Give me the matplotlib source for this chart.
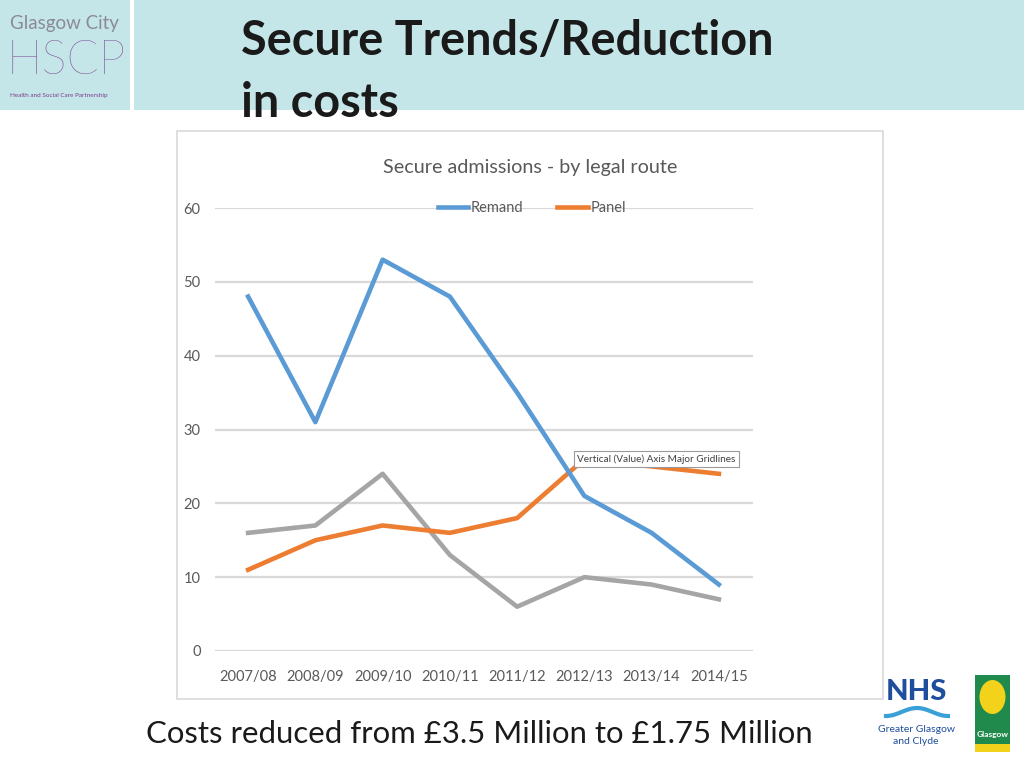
import matplotlib
matplotlib.use("Agg")
import matplotlib.pyplot as plt
from matplotlib.patches import Rectangle, Ellipse
import numpy as np

# data
years = ["2007/08", "2008/09", "2009/10", "2010/11", "2011/12", "2012/13", "2013/14", "2014/15"]
remand = [48, 31, 53, 48, 35, 21, 16, 9]
panel = [11, 15, 17, 16, 18, 26, 25, 24]
other = [16, 17, 24, 13, 6, 10, 9, 7]
yticks = [0, 10, 20, 30, 40, 50, 60]

plt.rcParams['font.family'] = ['Lato', 'DejaVu Sans']

W, H = 1024, 768
fig = plt.figure(figsize=(W / 100, H / 100), dpi=100)
fig.patch.set_facecolor("white")

def px(x, y):
    # pixel (from top-left) -> figure fraction
    return x / W, 1 - y / H

def box(x0, y0, x1, y1, **kw):
    fig.patches.append(Rectangle((x0 / W, 1 - y1 / H), (x1 - x0) / W, (y1 - y0) / H,
                                 transform=fig.transFigure, zorder=-1, **kw))

# header band and logo panel
band = "#c4e6e8"
box(0, 0, 130, 110, facecolor=band, edgecolor="none")
box(134, 0, 1024, 110, facecolor=band, edgecolor="none")

fig.text(*px(10, 23), "Glasgow City", fontsize=13.5, color="#8a8a9a", va="center", ha="left")
fig.text(*px(7, 62), "HSCP", fontsize=34, color="#7b3c8f", va="center", ha="left",
         fontweight="light")
fig.text(*px(10, 96), "Health and Social Care Partnership", fontsize=4.6, color="#7b3c8f",
         va="center", ha="left")

# slide title
fig.text(*px(241, 41), "Secure Trends/Reduction", fontsize=33.7, fontweight="bold",
         color="#1a1a1a", va="center", ha="left")
fig.text(*px(241, 103), "in costs", fontsize=33.7, fontweight="bold",
         color="#1a1a1a", va="center", ha="left")

# chart frame
box(177, 131, 883, 699, facecolor="white", edgecolor="#d9d9d9", linewidth=1.2)

fig.text(*px(530, 167), "Secure admissions - by legal route", fontsize=14.2,
         color="#595959", va="center", ha="center")

# plot area
l, t, r, b = 214.5, 208, 752.5, 651
ax = fig.add_axes([l / W, 1 - b / H, (r - l) / W, (b - t) / H])
ax.set_zorder(2)
ax.set_facecolor("none")
x = np.arange(len(years))
ax.set_xlim(-0.5, len(years) - 0.5)
ax.set_ylim(0, 60)
for v in yticks:
    ax.axhline(v, color="#d9d9d9", linewidth=1.6, zorder=0)
l_other, = ax.plot(x, other, color="#a5a5a5", linewidth=3.3, clip_on=False)
l_panel, = ax.plot(x, panel, color="#ed7d31", linewidth=3.3, clip_on=False)
l_remand, = ax.plot(x, remand, color="#5b9bd5", linewidth=3.3, clip_on=False)
for s in ax.spines.values():
    s.set_visible(False)
ax.set_xticks(x)
ax.set_xticklabels(years)
ax.set_yticks(yticks)
ax.tick_params(length=0, labelsize=10.5, labelcolor="#595959")
ax.tick_params(axis="x", pad=14)
ax.tick_params(axis="y", pad=10)

# legend drawn over the 60 gridline
lg = ax.legend([l_remand, l_panel], ["Remand", "Panel"], loc="center",
               bbox_to_anchor=(0.59, 1.0), ncol=2, frameon=False, fontsize=10.5,
               handlelength=2.1, columnspacing=2.3, handletextpad=0.2)
for txt in lg.get_texts():
    txt.set_color("#595959")

# tooltip from the screenshot
fig.text(*px(577, 459), "Vertical (Value) Axis Major Gridlines", fontsize=7.2,
         color="#404040", va="center", ha="left", zorder=5,
         bbox=dict(boxstyle="square,pad=0.35", facecolor="white", edgecolor="#9a9a9a",
                   linewidth=0.8))

# caption
fig.text(*px(146, 734), "Costs reduced from \u00a33.5 Million to \u00a31.75 Million",
         fontsize=22.4, color="#1a1a1a", va="center", ha="left")

# NHS logo
fig.text(*px(916, 692), "NHS", fontsize=21, fontweight="black", color="#1f4e9c",
         va="center", ha="center")
wx = np.linspace(886, 948, 60)
wy = 712 + 4 * np.cos((wx - 886) / 62 * 2 * np.pi)
fig.lines.append(plt.Line2D(wx / W, 1 - wy / H, transform=fig.transFigure,
                            color="#3aa0d8", linewidth=3))
fig.text(*px(916, 729), "Greater Glasgow", fontsize=7.5, color="#1f4e9c",
         va="center", ha="center")
fig.text(*px(916, 742), "and Clyde", fontsize=7.5, color="#1f4e9c",
         va="center", ha="center")

# Glasgow City Council logo
box(975, 675, 1010, 752, facecolor="#1f8a4c", edgecolor="none")
fig.patches.append(Ellipse(px(992.5, 697), 26 / W, 34 / H, transform=fig.transFigure,
                           facecolor="#f2d21b", edgecolor="none"))
fig.text(*px(992.5, 735), "Glasgow", fontsize=6, color="white", fontweight="bold",
         va="center", ha="center")
box(975, 744, 1010, 752, facecolor="#f2d21b", edgecolor="none")

fig.savefig("out.png", dpi=100)
